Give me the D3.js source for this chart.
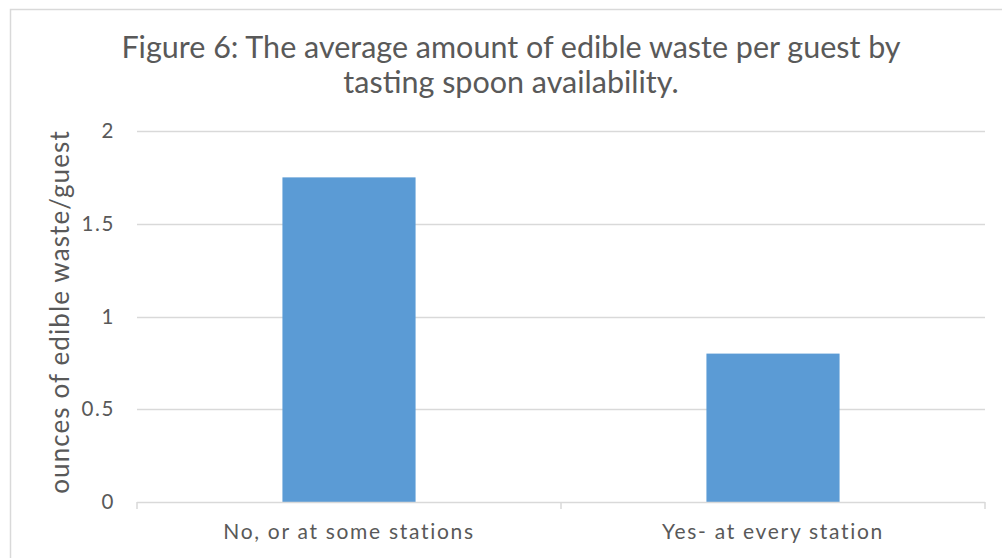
<!DOCTYPE html>
<html><head><meta charset="utf-8">
<script src="https://cdn.jsdelivr.net/npm/d3@7"></script>
<style>body{margin:0;background:#fff;} svg{display:block;}</style>
</head><body>
<svg id="c" width="1002" height="558"></svg>
<script>
const categories = ["No, or at some stations", "Yes- at every station"];
const values = [1.75, 0.8];
const yTicks = [0, 0.5, 1, 1.5, 2];
const titleLines = ["Figure 6: The average amount of edible waste per guest by", "tasting spoon availability."];
const yLabel = "ounces of edible waste/guest";

const svg = d3.select("#c");
const font = "Lato, sans-serif";
const textColor = "#595959";

// chart border
svg.append("rect").attr("x", 10.5).attr("y", 9.5).attr("width", 1100).attr("height", 700)
  .attr("fill", "#fff").attr("stroke", "#d9d9d9").attr("stroke-width", 1.5);

const m = {left: 137, right: 985, top: 131, bottom: 502};
const x = d3.scaleBand().domain(categories).range([m.left, m.right]).paddingInner(0.686).paddingOuter(0.343);
const xOuter = d3.scaleBand().domain(categories).range([m.left, m.right]);
const y = d3.scaleLinear().domain([0, 2]).range([m.bottom, m.top]);

// gridlines
svg.append("g").selectAll("line").data(yTicks.filter(d => d > 0)).join("line")
  .attr("x1", m.left).attr("x2", m.right)
  .attr("y1", d => Math.round(y(d)) + 0.5).attr("y2", d => Math.round(y(d)) + 0.5)
  .attr("stroke", "#d9d9d9").attr("stroke-width", 1.5);

// bars
svg.append("g").selectAll("rect").data(categories).join("rect")
  .attr("x", d => x(d)).attr("width", x.bandwidth())
  .attr("y", (d, i) => y(values[i])).attr("height", (d, i) => y(0) - y(values[i]))
  .attr("fill", "#5b9bd5");

// x axis
const xAxis = d3.axisBottom(xOuter).tickSize(0).tickPadding(22);
const gx = svg.append("g").attr("transform", `translate(0,${m.bottom})`).call(xAxis);
gx.select(".domain").attr("stroke", "#d9d9d9").attr("stroke-width", 1.5)
  .attr("d", `M${m.left},0.5H${m.right}`);
gx.selectAll(".tick text").attr("font-family", font).attr("font-size", 21)
  .attr("letter-spacing", 1.7).attr("fill", textColor);
// category separator ticks
svg.append("g").selectAll("line").data([m.left, xOuter(categories[1]), m.right]).join("line")
  .attr("x1", d => d).attr("x2", d => d).attr("y1", m.bottom).attr("y2", m.bottom + 7)
  .attr("stroke", "#d9d9d9").attr("stroke-width", 1.5);

// y axis
const yAxis = d3.axisLeft(y).tickValues(yTicks).tickSize(0).tickPadding(22).tickFormat(d3.format("~g"));
const gy = svg.append("g").attr("transform", `translate(${m.left},0)`).call(yAxis);
gy.select(".domain").remove();
gy.selectAll(".tick text").attr("font-family", font).attr("font-size", 20.5)
  .attr("letter-spacing", 1.6).attr("fill", textColor);

// y label
svg.append("text").attr("transform", `translate(69,312) rotate(-90)`)
  .attr("text-anchor", "middle").attr("font-family", font).attr("font-size", 26)
  .attr("letter-spacing", 1.1).attr("fill", textColor)
  .text(yLabel);

// title
svg.append("g").selectAll("text").data(titleLines).join("text")
  .attr("x", 511).attr("y", (d, i) => 58 + i * 35)
  .attr("text-anchor", "middle").attr("font-family", font).attr("font-size", 30.5).attr("fill", textColor)
  .text(d => d);
</script>
</body></html>
